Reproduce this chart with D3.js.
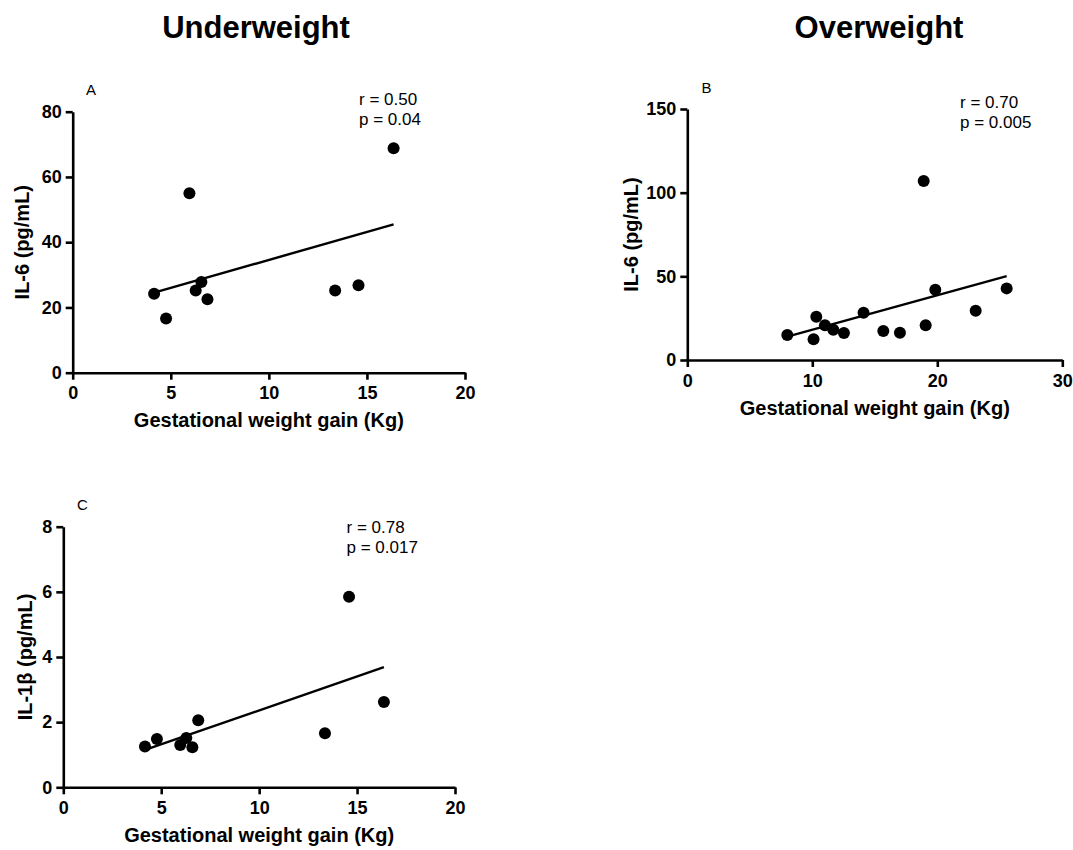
<!DOCTYPE html>
<html>
<head>
<meta charset="utf-8">
<script src="https://cdn.jsdelivr.net/npm/d3@7"></script>
<style>
  body { margin: 0; background: #fff; }
  svg { display: block; }
  text { font-family: Arial, "Liberation Sans", Helvetica, sans-serif; fill: #000; }
</style>
</head>
<body>
<svg id="chart" width="1073" height="850"></svg>
<script>
// ---- Data ----
const titles = ["Underweight", "Overweight"];

// Panel A: Underweight, IL-6
const gainA = [4.15, 4.76, 5.95, 6.27, 6.56, 6.87, 13.38, 14.57, 16.36];
const il6A  = [24.2, 16.6, 55.0, 25.2, 27.8, 22.5, 25.2, 26.8, 68.8];

// Panel B: Overweight, IL-6
const gainB = [8.0, 10.1, 10.32, 11.01, 11.68, 12.53, 14.1, 15.68, 17.01, 18.91, 19.07, 19.84, 23.07, 25.55];
const il6B  = [14.9, 12.4, 25.9, 20.7, 18.1, 16.1, 28.3, 17.3, 16.3, 107.0, 20.7, 42.0, 29.5, 42.8];

// Panel C: Underweight, IL-1β
const gainC = [4.17, 4.78, 5.97, 6.28, 6.59, 6.89, 13.36, 14.59, 16.37];
const il1bC = [1.25, 1.48, 1.30, 1.51, 1.23, 2.06, 1.66, 5.85, 2.62];

const xTicksA = [0, 5, 10, 15, 20];
const yTicksA = [0, 20, 40, 60, 80];
const xTicksB = [0, 10, 20, 30];
const yTicksB = [0, 50, 100, 150];
const xTicksC = [0, 5, 10, 15, 20];
const yTicksC = [0, 2, 4, 6, 8];

const statsA = ["r = 0.50", "p = 0.04"];
const statsB = ["r = 0.70", "p = 0.005"];
const statsC = ["r = 0.78", "p = 0.017"];

const xLabel = "Gestational weight gain (Kg)";

// ---- Layout ----
const svg = d3.select("#chart");
const FONT = 'Arial, "Liberation Sans", Helvetica, sans-serif';

const panels = [
  { letter: "A", xs: gainA, ys: il6A, xDomain: [0, 20], yDomain: [0, 80], xTicks: xTicksA, yTicks: yTicksA,
    stats: statsA, yLabel: "IL-6 (pg/mL)",
    left: 72.7, right: 465, top: 111.7, bottom: 372.7, yLabelX: 22, letterPos: [86, 95], statsPos: [359, 105] },
  { letter: "B", xs: gainB, ys: il6B, xDomain: [0, 30], yDomain: [0, 150], xTicks: xTicksB, yTicks: yTicksB,
    stats: statsB, yLabel: "IL-6 (pg/mL)",
    left: 687.3, right: 1062.3, top: 109, bottom: 360, yLabelX: 631, letterPos: [701.5, 92.5], statsPos: [960, 108] },
  { letter: "C", xs: gainC, ys: il1bC, xDomain: [0, 20], yDomain: [0, 8], xTicks: xTicksC, yTicks: yTicksC,
    stats: statsC, yLabel: "IL-1β (pg/mL)",
    left: 63.3, right: 455, top: 526.7, bottom: 787.3, yLabelX: 25, letterPos: [77, 510], statsPos: [346.5, 533] }
];

// Titles
svg.append("text").attr("x", 256).attr("y", 38).attr("text-anchor", "middle")
  .attr("font-size", 31).attr("font-weight", "bold").text(titles[0]);
svg.append("text").attr("x", 879).attr("y", 38).attr("text-anchor", "middle")
  .attr("font-size", 31).attr("font-weight", "bold").text(titles[1]);

function fit(xs, ys) {
  const mx = d3.mean(xs), my = d3.mean(ys);
  let sxy = 0, sxx = 0;
  xs.forEach((x, i) => { sxy += (x - mx) * (ys[i] - my); sxx += (x - mx) * (x - mx); });
  const b = sxy / sxx;
  return { b, a: my - b * mx };
}

panels.forEach(p => {
  const x = d3.scaleLinear().domain(p.xDomain).range([p.left, p.right]);
  const y = d3.scaleLinear().domain(p.yDomain).range([p.bottom, p.top]);
  const g = svg.append("g");

  const xa = g.append("g").attr("transform", `translate(0,${p.bottom})`)
    .call(d3.axisBottom(x).tickValues(p.xTicks).tickFormat(d3.format("d")).tickSize(7).tickPadding(7).tickSizeOuter(0));
  const ya = g.append("g").attr("transform", `translate(${p.left},0)`)
    .call(d3.axisLeft(y).tickValues(p.yTicks).tickFormat(d3.format("d")).tickSize(7).tickPadding(4).tickSizeOuter(0));

  [xa, ya].forEach(ax => {
    ax.attr("font-family", FONT).attr("font-size", 18).attr("font-weight", "bold");
    ax.select(".domain").attr("stroke", "#000").attr("stroke-width", 2.6);
    ax.selectAll(".tick line").attr("stroke", "#000").attr("stroke-width", 2.6);
    ax.selectAll(".tick text").attr("font-size", 18).attr("font-weight", "bold")
      .style("font-weight", "bold").attr("fill", "#000");
  });

  // Regression line (least squares through the points)
  const f = fit(p.xs, p.ys);
  const x0 = d3.min(p.xs), x1 = d3.max(p.xs);
  g.append("line")
    .attr("x1", x(x0)).attr("y1", y(f.a + f.b * x0))
    .attr("x2", x(x1)).attr("y2", y(f.a + f.b * x1))
    .attr("stroke", "#000").attr("stroke-width", 2.4);

  g.selectAll("circle.pt").data(p.xs.map((v, i) => [v, p.ys[i]])).enter().append("circle")
    .attr("class", "pt").attr("cx", d => x(d[0])).attr("cy", d => y(d[1])).attr("r", 6).attr("fill", "#000");

  g.append("text").attr("x", (p.left + p.right) / 2).attr("y", p.bottom + 54.5).attr("text-anchor", "middle")
    .attr("font-size", 20).attr("font-weight", "bold").text(xLabel);
  g.append("text").attr("transform", `translate(${p.yLabelX},${(p.top + p.bottom) / 2}) rotate(-90)`)
    .attr("text-anchor", "middle").attr("dy", "0.35em")
    .attr("font-size", 20).attr("font-weight", "bold").text(p.yLabel);

  g.append("text").attr("x", p.letterPos[0]).attr("y", p.letterPos[1]).attr("font-size", 15).text(p.letter);

  p.stats.forEach((s, i) => {
    g.append("text").attr("x", p.statsPos[0]).attr("y", p.statsPos[1] + i * 20)
      .attr("font-size", 17).text(s);
  });
});
</script>
</body>
</html>
